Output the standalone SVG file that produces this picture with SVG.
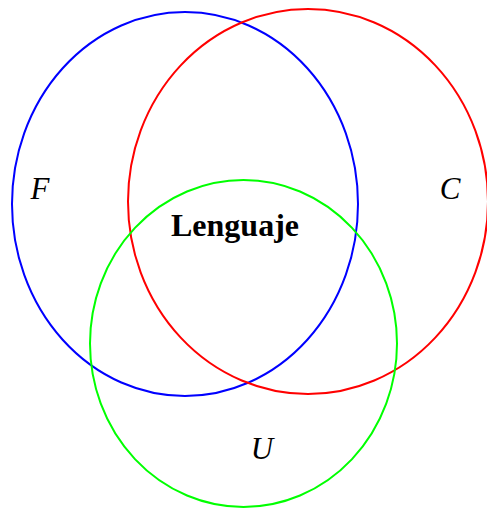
<svg xmlns="http://www.w3.org/2000/svg" width="487" height="509" viewBox="0 0 487 509">
<style>
.set{fill:none;stroke-width:2}
.lbl{font-family:"Liberation Serif","Times New Roman",serif;font-style:italic;font-size:31px;fill:#000}
.title{font-family:"Liberation Serif","Times New Roman",serif;font-weight:bold;font-size:32px;fill:#000}
</style>
<rect width="487" height="509" fill="#fff"/>
<g id="F">
<ellipse class="set" cx="185" cy="204" rx="173" ry="192" stroke="#0000ff"/>
<text class="lbl" x="40" y="199" text-anchor="middle">F</text>
</g>
<g id="C">
<ellipse class="set" cx="308" cy="201.5" rx="180" ry="192.5" stroke="#ff0000"/>
<text class="lbl" x="450" y="199" text-anchor="middle">C</text>
</g>
<g id="U">
<ellipse class="set" cx="243.5" cy="343.5" rx="153.5" ry="163.5" stroke="#00ff00"/>
<text class="lbl" x="262" y="459" text-anchor="middle">U</text>
</g>
<g id="Lenguaje">
<text class="title" x="235" y="236" text-anchor="middle">Lenguaje</text>
</g>
</svg>
